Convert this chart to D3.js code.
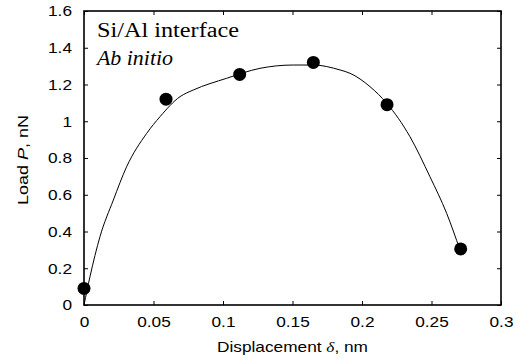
<!DOCTYPE html>
<html>
<head>
<meta charset="utf-8">
<script src="https://cdn.jsdelivr.net/npm/d3@7"></script>
<style>
  body { margin: 0; background: #fff; }
  svg text { font-family: "Liberation Sans", Arial, sans-serif; fill: #000; }
  .tick text { transform-box: fill-box; transform: scaleX(1.15); }
  .xax .tick text { transform-origin: center; }
  .yax .tick text { transform-origin: right; }
</style>
</head>
<body>
<div id="vis-container"></div>
<script>
// measured points (ab initio)
var dispValues = [0, 0.059, 0.112, 0.165, 0.218, 0.271];
var loadValues = [0.09, 1.12, 1.255, 1.32, 1.09, 0.305];

// fitted curve
var fitDisp = [0, 0.0043, 0.0115, 0.0211, 0.0307, 0.0451, 0.0547, 0.0691, 0.0786, 0.1027,
  0.1266, 0.1506, 0.165, 0.1842, 0.1914, 0.2058, 0.2178, 0.2345, 0.2489, 0.2609, 0.2705];
var fitLoad = [0.0, 0.154, 0.372, 0.571, 0.753, 0.934, 1.025, 1.134, 1.17, 1.234,
  1.288, 1.306, 1.306, 1.279, 1.261, 1.188, 1.098, 0.916, 0.698, 0.499, 0.299];

var xTicks = [0, 0.05, 0.1, 0.15, 0.2, 0.25, 0.3];
var yTicks = [0, 0.2, 0.4, 0.6, 0.8, 1, 1.2, 1.4, 1.6];

var width = 518, height = 362;
var margin = { top: 11, right: 17, bottom: 57, left: 84 };
var w = width - margin.left - margin.right;
var h = height - margin.top - margin.bottom;

var svg = d3.select("#vis-container").append("svg")
  .attr("width", width)
  .attr("height", height);

var g = svg.append("g")
  .attr("transform", "translate(" + margin.left + "," + margin.top + ")");

var x = d3.scaleLinear().domain([0, 0.3]).range([0, w]);
var y = d3.scaleLinear().domain([0, 1.6]).range([h, 0]);

// axes, ticks pointing inward
var xAxis = g.append("g")
  .attr("class", "xax")
  .attr("transform", "translate(0," + h + ")")
  .call(d3.axisBottom(x).tickValues(xTicks).tickSize(-4).tickPadding(11)
    .tickFormat(function (d) { return d3.format("")(+d.toFixed(2)); }));
var xTop = g.append("g")
  .call(d3.axisTop(x).tickValues(xTicks).tickSize(-4).tickFormat(""));
var yAxis = g.append("g")
  .attr("class", "yax")
  .call(d3.axisLeft(y).tickValues(yTicks).tickSize(-4).tickPadding(12)
    .tickFormat(function (d) { return d3.format("")(+d.toFixed(1)); }));
var yRight = g.append("g")
  .attr("transform", "translate(" + w + ",0)")
  .call(d3.axisRight(y).tickValues(yTicks).tickSize(-4).tickFormat(""));

[xAxis, xTop, yAxis, yRight].forEach(function (a) {
  a.select(".domain").remove();
  a.selectAll(".tick line").attr("stroke", "#000").attr("stroke-width", 1);
  a.selectAll(".tick text").style("font-size", "15px");
});

// frame
g.append("rect")
  .attr("width", w)
  .attr("height", h)
  .attr("fill", "none")
  .attr("stroke", "#000")
  .attr("stroke-width", 1.6);

// fit line
var fit = fitDisp.map(function (d, i) { return [d, fitLoad[i]]; });
g.append("path")
  .datum(fit)
  .attr("fill", "none")
  .attr("stroke", "#000")
  .attr("stroke-width", 1)
  .attr("d", d3.line()
    .x(function (d) { return x(d[0]); })
    .y(function (d) { return y(d[1]); })
    .curve(d3.curveMonotoneX));

// points
g.selectAll("circle.pt")
  .data(dispValues)
  .enter()
  .append("circle")
  .attr("class", "pt")
  .attr("cx", function (d) { return x(d); })
  .attr("cy", function (d, i) { return y(loadValues[i]); })
  .attr("r", 6.5)
  .attr("fill", "#000");

// annotation
g.append("text")
  .attr("x", 13)
  .attr("y", 26)
  .attr("textLength", 142)
  .attr("lengthAdjust", "spacingAndGlyphs")
  .style("font-family", "'Liberation Serif', 'Times New Roman', serif")
  .style("font-size", "20px")
  .text("Si/Al interface");
g.append("text")
  .attr("x", 13)
  .attr("y", 54)
  .attr("textLength", 76)
  .attr("lengthAdjust", "spacingAndGlyphs")
  .style("font-family", "'Liberation Serif', 'Times New Roman', serif")
  .style("font-size", "20px")
  .style("font-style", "italic")
  .text("Ab initio");

// axis titles
var xt = svg.append("text")
  .attr("x", margin.left + w / 2)
  .attr("y", 352)
  .attr("text-anchor", "middle")
  .attr("textLength", 151)
  .attr("lengthAdjust", "spacingAndGlyphs")
  .style("font-size", "15px");
xt.append("tspan").text("Displacement ");
xt.append("tspan").style("font-family", "'Liberation Serif', serif").style("font-style", "italic").text("δ");
xt.append("tspan").text(", nm");

var yt = svg.append("text")
  .attr("transform", "translate(28," + (margin.top + h / 2 + 2) + ") rotate(-90)")
  .attr("text-anchor", "middle")
  .attr("textLength", 90)
  .attr("lengthAdjust", "spacingAndGlyphs")
  .style("font-size", "15px");
yt.append("tspan").text("Load ");
yt.append("tspan").style("font-style", "italic").text("P");
yt.append("tspan").text(", nN");
</script>
</body>
</html>
